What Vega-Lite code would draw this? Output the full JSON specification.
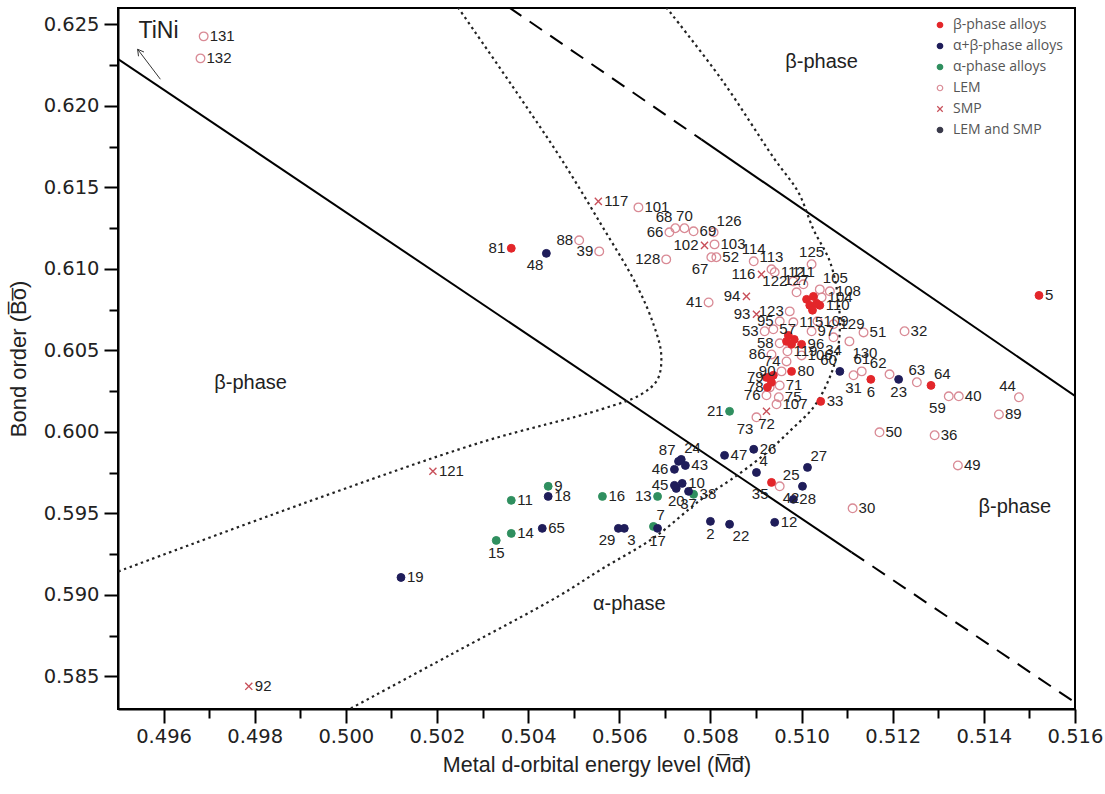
{
"$schema": "https://vega.github.io/schema/vega-lite/v6.json",
"width": 957, "height": 701,
"autosize": {"type": "none"},
"padding": {"left": 118, "top": 8, "right": 30, "bottom": 85},
"background": "white",
"config": {"view": {"stroke": "black", "strokeWidth": 2}, "font": "Liberation Sans"},
"datasets": {
"lines": [
{"seg":"A1","o":1,"x":0.49501,"y":0.62285},{"seg":"A1","o":2,"x":0.5111,"y":0.59261},
{"seg":"A2","o":1,"x":0.5111,"y":0.59261},{"seg":"A2","o":2,"x":0.516,"y":0.5834},
{"seg":"B1","o":1,"x":0.50358,"y":0.62604},{"seg":"B1","o":2,"x":0.5078,"y":0.61794},
{"seg":"B2","o":1,"x":0.5078,"y":0.61794},{"seg":"B2","o":2,"x":0.516,"y":0.6022},
{"seg":"C","o":1,"x":0.50246,"y":0.62604},{"seg":"C","o":2,"x":0.50385,"y":0.6204},{"seg":"C","o":3,"x":0.50473,"y":0.61672},{"seg":"C","o":4,"x":0.5056,"y":0.61273},{"seg":"C","o":5,"x":0.50637,"y":0.60905},{"seg":"C","o":6,"x":0.50675,"y":0.6066},{"seg":"C","o":7,"x":0.50692,"y":0.60475},{"seg":"C","o":8,"x":0.50684,"y":0.60322},{"seg":"C","o":9,"x":0.50648,"y":0.6023},{"seg":"C","o":10,"x":0.5056,"y":0.60138},{"seg":"C","o":11,"x":0.50297,"y":0.59936},{"seg":"C","o":12,"x":0.49901,"y":0.59555},{"seg":"C","o":13,"x":0.49501,"y":0.59144},
{"seg":"D","o":1,"x":0.50703,"y":0.62604},{"seg":"D","o":2,"x":0.50824,"y":0.62163},{"seg":"D","o":3,"x":0.50941,"y":0.61672},{"seg":"D","o":4,"x":0.50993,"y":0.61469},{"seg":"D","o":5,"x":0.51026,"y":0.61242},{"seg":"D","o":6,"x":0.51062,"y":0.61046},{"seg":"D","o":7,"x":0.51079,"y":0.60844},{"seg":"D","o":8,"x":0.51084,"y":0.60629},{"seg":"D","o":9,"x":0.51075,"y":0.60445},{"seg":"D","o":10,"x":0.51055,"y":0.60291},{"seg":"D","o":11,"x":0.51026,"y":0.6015},{"seg":"D","o":12,"x":0.50978,"y":0.60015},{"seg":"D","o":13,"x":0.50919,"y":0.59862},{"seg":"D","o":14,"x":0.50846,"y":0.59709},{"seg":"D","o":15,"x":0.5078,"y":0.59586},{"seg":"D","o":16,"x":0.50677,"y":0.59353},{"seg":"D","o":17,"x":0.5056,"y":0.59156},{"seg":"D","o":18,"x":0.50466,"y":0.58991},{"seg":"D","o":19,"x":0.50231,"y":0.58635},{"seg":"D","o":20,"x":0.50011,"y":0.58304},
{"seg":"ar","o":1,"x":0.49593,"y":0.62163},{"seg":"ar","o":2,"x":0.49543,"y":0.62347},
{"seg":"h1","o":1,"x":0.49543,"y":0.62347},{"seg":"h1","o":2,"x":0.49545,"y":0.62304},
{"seg":"h2","o":1,"x":0.49543,"y":0.62347},{"seg":"h2","o":2,"x":0.49557,"y":0.6233}
],
"ann": [
{"t":"TiNi","x":0.49589,"y":0.62457,"k":"big"},
{"t":"β-phase","x":0.51044,"y":0.62267,"k":"ph"},
{"t":"β-phase","x":0.49791,"y":0.60297,"k":"ph"},
{"t":"β-phase","x":0.51468,"y":0.59537,"k":"ph"},
{"t":"α-phase","x":0.50622,"y":0.58942,"k":"ph"}
],
"pts": [
{"id":"131","cat":"LEM","x":0.49688,"y":0.62426,"side":"r"},
{"id":"132","cat":"LEM","x":0.49681,"y":0.62291,"side":"r"},
{"id":"81","cat":"β-phase alloys","x":0.50363,"y":0.61126,"side":"l"},
{"id":"48","cat":"α+β-phase alloys","x":0.5044,"y":0.61095,"side":"bl"},
{"id":"88","cat":"LEM","x":0.50512,"y":0.61175,"side":"l"},
{"id":"39","cat":"LEM","x":0.50556,"y":0.61107,"side":"l"},
{"id":"117","cat":"SMP","x":0.50554,"y":0.61414,"side":"r"},
{"id":"101","cat":"LEM","x":0.50642,"y":0.61377,"side":"r"},
{"id":"66","cat":"LEM","x":0.5071,"y":0.61224,"side":"l"},
{"id":"68","cat":"LEM","x":0.50723,"y":0.61249,"side":"tl"},
{"id":"70","cat":"LEM","x":0.50743,"y":0.61249,"side":"t"},
{"id":"69","cat":"LEM","x":0.50763,"y":0.6123,"side":"r"},
{"id":"126","cat":"LEM","x":0.50807,"y":0.61224,"side":"tr"},
{"id":"102","cat":"SMP","x":0.50787,"y":0.61144,"side":"l"},
{"id":"103","cat":"LEM","x":0.50809,"y":0.6115,"side":"r"},
{"id":"52","cat":"LEM","x":0.50813,"y":0.61071,"side":"r"},
{"id":"67","cat":"LEM","x":0.50802,"y":0.61071,"side":"bl"},
{"id":"128","cat":"LEM","x":0.50703,"y":0.61058,"side":"l"},
{"id":"114","cat":"LEM","x":0.50895,"y":0.61046,"side":"t"},
{"id":"113","cat":"LEM","x":0.50934,"y":0.60997,"side":"t"},
{"id":"125","cat":"LEM","x":0.51022,"y":0.61028,"side":"t"},
{"id":"112","cat":"LEM","x":0.50941,"y":0.60979,"side":"r"},
{"id":"116","cat":"SMP","x":0.50912,"y":0.60966,"side":"l"},
{"id":"122","cat":"LEM","x":0.50982,"y":0.60923,"side":"l"},
{"id":"111","cat":"LEM","x":0.51004,"y":0.60905,"side":"t"},
{"id":"105","cat":"LEM","x":0.5104,"y":0.60874,"side":"tr"},
{"id":"108","cat":"LEM","x":0.51062,"y":0.60862,"side":"r"},
{"id":"127","cat":"LEM","x":0.50989,"y":0.60856,"side":"t"},
{"id":"104","cat":"LEM","x":0.51044,"y":0.60825,"side":"r"},
{"id":"110","cat":"β-phase alloys","x":0.5104,"y":0.60776,"side":"r"},
{"id":"41","cat":"LEM","x":0.50796,"y":0.60794,"side":"l"},
{"id":"94","cat":"SMP","x":0.50879,"y":0.60831,"side":"l"},
{"id":"93","cat":"SMP","x":0.50901,"y":0.60721,"side":"l"},
{"id":"123","cat":"LEM","x":0.50974,"y":0.60739,"side":"l"},
{"id":"95","cat":"LEM","x":0.50952,"y":0.60678,"side":"l"},
{"id":"115","cat":"LEM","x":0.50982,"y":0.60672,"side":"r"},
{"id":"109","cat":"LEM","x":0.51035,"y":0.60678,"side":"r"},
{"id":"129","cat":"LEM","x":0.5107,"y":0.6066,"side":"r"},
{"id":"53","cat":"LEM","x":0.50919,"y":0.60617,"side":"l"},
{"id":"57","cat":"LEM","x":0.50938,"y":0.60629,"side":"r"},
{"id":"97","cat":"LEM","x":0.51022,"y":0.60617,"side":"r"},
{"id":"51","cat":"LEM","x":0.51136,"y":0.6061,"side":"r"},
{"id":"32","cat":"LEM","x":0.51226,"y":0.60617,"side":"r"},
{"id":"130","cat":"LEM","x":0.51105,"y":0.60555,"side":"br"},
{"id":"34","cat":"LEM","x":0.5107,"y":0.6058,"side":"b"},
{"id":"96","cat":"β-phase alloys","x":0.51,"y":0.60537,"side":"r"},
{"id":"58","cat":"LEM","x":0.50952,"y":0.60543,"side":"l"},
{"id":"119","cat":"LEM","x":0.50969,"y":0.60494,"side":"r"},
{"id":"86","cat":"LEM","x":0.50934,"y":0.60475,"side":"l"},
{"id":"106","cat":"LEM","x":0.51,"y":0.60469,"side":"r"},
{"id":"74","cat":"LEM","x":0.50967,"y":0.60432,"side":"l"},
{"id":"90","cat":"LEM","x":0.50956,"y":0.60371,"side":"l"},
{"id":"80","cat":"β-phase alloys","x":0.50978,"y":0.60371,"side":"r"},
{"id":"79","cat":"LEM","x":0.5093,"y":0.60334,"side":"l"},
{"id":"78","cat":"LEM","x":0.5093,"y":0.60273,"side":"l"},
{"id":"71","cat":"LEM","x":0.50952,"y":0.60285,"side":"r"},
{"id":"76","cat":"LEM","x":0.50923,"y":0.60224,"side":"l"},
{"id":"75","cat":"LEM","x":0.5095,"y":0.60212,"side":"r"},
{"id":"107","cat":"LEM","x":0.50945,"y":0.60169,"side":"r"},
{"id":"72","cat":"SMP","x":0.50923,"y":0.60126,"side":"b"},
{"id":"73","cat":"LEM","x":0.50901,"y":0.60089,"side":"bl"},
{"id":"21","cat":"α-phase alloys","x":0.50842,"y":0.60126,"side":"l"},
{"id":"","cat":"β-phase alloys","x":0.51011,"y":0.60813,"side":""},
{"id":"","cat":"β-phase alloys","x":0.51026,"y":0.60831,"side":""},
{"id":"","cat":"β-phase alloys","x":0.51018,"y":0.60776,"side":""},
{"id":"","cat":"β-phase alloys","x":0.51033,"y":0.60788,"side":""},
{"id":"","cat":"β-phase alloys","x":0.51024,"y":0.60746,"side":""},
{"id":"","cat":"β-phase alloys","x":0.50971,"y":0.60592,"side":""},
{"id":"","cat":"β-phase alloys","x":0.50984,"y":0.60567,"side":""},
{"id":"","cat":"β-phase alloys","x":0.50978,"y":0.60537,"side":""},
{"id":"","cat":"β-phase alloys","x":0.50967,"y":0.60555,"side":""},
{"id":"","cat":"β-phase alloys","x":0.50923,"y":0.60334,"side":""},
{"id":"","cat":"β-phase alloys","x":0.50934,"y":0.60304,"side":""},
{"id":"","cat":"β-phase alloys","x":0.50925,"y":0.60273,"side":""},
{"id":"","cat":"β-phase alloys","x":0.50938,"y":0.60347,"side":""},
{"id":"60","cat":"α+β-phase alloys","x":0.51084,"y":0.60371,"side":"tl"},
{"id":"31","cat":"LEM","x":0.51114,"y":0.60347,"side":"b"},
{"id":"61","cat":"LEM","x":0.51132,"y":0.60371,"side":"t"},
{"id":"6","cat":"β-phase alloys","x":0.51152,"y":0.60322,"side":"b"},
{"id":"62","cat":"LEM","x":0.51193,"y":0.60353,"side":"tl"},
{"id":"23","cat":"α+β-phase alloys","x":0.51213,"y":0.60322,"side":"b"},
{"id":"63","cat":"LEM","x":0.51253,"y":0.60304,"side":"t"},
{"id":"64","cat":"β-phase alloys","x":0.51284,"y":0.60285,"side":"tr"},
{"id":"59","cat":"LEM","x":0.51323,"y":0.60218,"side":"bl"},
{"id":"40","cat":"LEM","x":0.51345,"y":0.60218,"side":"r"},
{"id":"44","cat":"LEM","x":0.51477,"y":0.60212,"side":"tl"},
{"id":"89","cat":"LEM","x":0.51433,"y":0.60107,"side":"r"},
{"id":"33","cat":"β-phase alloys","x":0.51042,"y":0.60187,"side":"r"},
{"id":"50","cat":"LEM","x":0.51171,"y":0.59997,"side":"r"},
{"id":"36","cat":"LEM","x":0.51292,"y":0.59979,"side":"r"},
{"id":"49","cat":"LEM","x":0.51343,"y":0.59794,"side":"r"},
{"id":"30","cat":"LEM","x":0.51112,"y":0.59531,"side":"r"},
{"id":"5","cat":"β-phase alloys","x":0.51521,"y":0.60837,"side":"r"},
{"id":"9","cat":"α-phase alloys","x":0.50444,"y":0.59666,"side":"r"},
{"id":"18","cat":"α+β-phase alloys","x":0.50444,"y":0.59604,"side":"r"},
{"id":"11","cat":"α-phase alloys","x":0.50363,"y":0.5958,"side":"r"},
{"id":"16","cat":"α-phase alloys","x":0.50563,"y":0.59604,"side":"r"},
{"id":"65","cat":"α+β-phase alloys","x":0.50431,"y":0.59408,"side":"r"},
{"id":"14","cat":"α-phase alloys","x":0.50363,"y":0.59377,"side":"r"},
{"id":"15","cat":"α-phase alloys","x":0.5033,"y":0.59334,"side":"b"},
{"id":"19","cat":"α+β-phase alloys","x":0.50121,"y":0.59107,"side":"r"},
{"id":"121","cat":"SMP","x":0.50191,"y":0.59758,"side":"r"},
{"id":"92","cat":"SMP","x":0.49787,"y":0.58439,"side":"r"},
{"id":"29","cat":"α+β-phase alloys","x":0.50598,"y":0.59408,"side":"bl"},
{"id":"3","cat":"α+β-phase alloys","x":0.50611,"y":0.59408,"side":"br"},
{"id":"7","cat":"α-phase alloys","x":0.50675,"y":0.5942,"side":"tr"},
{"id":"17","cat":"α+β-phase alloys","x":0.50684,"y":0.59408,"side":"b"},
{"id":"13","cat":"α-phase alloys","x":0.50684,"y":0.59604,"side":"l"},
{"id":"20","cat":"α+β-phase alloys","x":0.50725,"y":0.59653,"side":"b"},
{"id":"87","cat":"α+β-phase alloys","x":0.5073,"y":0.59819,"side":"tl"},
{"id":"24","cat":"α+β-phase alloys","x":0.50736,"y":0.59831,"side":"tr"},
{"id":"43","cat":"α+β-phase alloys","x":0.50745,"y":0.59794,"side":"r"},
{"id":"46","cat":"α+β-phase alloys","x":0.50721,"y":0.5977,"side":"l"},
{"id":"45","cat":"α+β-phase alloys","x":0.50721,"y":0.59672,"side":"l"},
{"id":"10","cat":"α+β-phase alloys","x":0.50738,"y":0.59684,"side":"r"},
{"id":"38","cat":"α-phase alloys","x":0.50763,"y":0.59617,"side":"r"},
{"id":"37","cat":"α+β-phase alloys","x":0.50752,"y":0.59635,"side":"b"},
{"id":"2","cat":"α+β-phase alloys","x":0.508,"y":0.59451,"side":"b"},
{"id":"22","cat":"α+β-phase alloys","x":0.50842,"y":0.59433,"side":"br"},
{"id":"12","cat":"α+β-phase alloys","x":0.50941,"y":0.59445,"side":"r"},
{"id":"47","cat":"α+β-phase alloys","x":0.50831,"y":0.59856,"side":"r"},
{"id":"26","cat":"α+β-phase alloys","x":0.50895,"y":0.59893,"side":"r"},
{"id":"4","cat":"α+β-phase alloys","x":0.50901,"y":0.59751,"side":"tr"},
{"id":"35","cat":"β-phase alloys","x":0.50934,"y":0.5969,"side":"bl"},
{"id":"42","cat":"LEM","x":0.50952,"y":0.59666,"side":"br"},
{"id":"25","cat":"α+β-phase alloys","x":0.51002,"y":0.59666,"side":"tl"},
{"id":"27","cat":"α+β-phase alloys","x":0.51013,"y":0.59782,"side":"tr"},
{"id":"28","cat":"α+β-phase alloys","x":0.50982,"y":0.59586,"side":"r"}
]
},
"encoding": {
"x": {"field": "x", "type": "quantitative",
 "scale": {"domain": [0.495, 0.516], "nice": false, "zero": false},
 "axis": {"title": "Metal d-orbital energy level (M\u0305d\u0305)",
  "values": [0.496,0.497,0.498,0.499,0.5,0.501,0.502,0.503,0.504,0.505,0.506,0.507,0.508,0.509,0.51,0.511,0.512,0.513,0.514,0.515,0.516],
  "labelExpr": "round(datum.value*1000)%2==0 ? format(datum.value,'.3f') : ''",
  "tickSize": {"condition": {"test": "round(datum.value*1000)%2==0", "value": 14}, "value": 9},
  "tickWidth": 2, "tickColor": "black", "domainColor": "black", "domainWidth": 2,
  "labelFont": "DejaVu Sans", "labelFontSize": 19.5, "labelColor": "#222", "labelPadding": 4,
  "labelFlush": false, "labelOverlap": false, "grid": false,
  "titleFont": "Liberation Sans", "titleFontSize": 21.5, "titleFontWeight": "normal", "titleColor": "#222", "titlePadding": 9}},
"y": {"field": "y", "type": "quantitative",
 "scale": {"domain": [0.583, 0.626], "nice": false, "zero": false},
 "axis": {"title": "Bond order (B\u0305o\u0305)",
  "values": [0.585,0.5875,0.59,0.5925,0.595,0.5975,0.6,0.6025,0.605,0.6075,0.61,0.6125,0.615,0.6175,0.62,0.6225,0.625],
  "labelExpr": "round(datum.value*2000)%2==0 ? format(datum.value,'.3f') : ''",
  "tickSize": {"condition": {"test": "round(datum.value*2000)%2==0", "value": 14}, "value": 9},
  "tickWidth": 2, "tickColor": "black", "domainColor": "black", "domainWidth": 2,
  "labelFont": "DejaVu Sans", "labelFontSize": 19.5, "labelColor": "#222", "labelPadding": 5,
  "labelFlush": false, "labelOverlap": false, "grid": false,
  "titleFont": "Liberation Sans", "titleFontSize": 22, "titleFontWeight": "normal", "titleColor": "#222", "titlePadding": 13}},
"shape": {"field": "cat", "type": "nominal",
   "scale": {"domain": ["β-phase alloys","α+β-phase alloys","α-phase alloys","LEM","SMP","LEM and SMP"], "range": ["circle","circle","circle","circle","M-1,-1L1,1M-1,1L1,-1","circle"]},
   "legend": {"title": null, "orient": "none", "legendX": 815, "legendY": 10, "labelFont": "Open Sans", "labelFontSize": 14, "labelColor": "#555", "rowPadding": 7, "labelOffset": 6, "symbolSize": 30, "symbolStrokeWidth": 1.2}},
"fill": {"field": "cat", "type": "nominal",
   "scale": {"domain": ["β-phase alloys","α+β-phase alloys","α-phase alloys","LEM","SMP","LEM and SMP"], "range": ["#e3262a","#1f1d5a","#2f8f5f","transparent","transparent","#3a3a4a"]},
   "legend": {"title": null, "orient": "none", "legendX": 815, "legendY": 10, "labelFont": "Open Sans", "labelFontSize": 14, "labelColor": "#555", "rowPadding": 7, "labelOffset": 6, "symbolSize": 30, "symbolStrokeWidth": 1.2}},
"stroke": {"field": "cat", "type": "nominal",
   "scale": {"domain": ["β-phase alloys","α+β-phase alloys","α-phase alloys","LEM","SMP","LEM and SMP"], "range": ["#e3262a","#1f1d5a","#2f8f5f","#d98a95","#c8505a","#3a3a4a"]},
   "legend": {"title": null, "orient": "none", "legendX": 815, "legendY": 10, "labelFont": "Open Sans", "labelFontSize": 14, "labelColor": "#555", "rowPadding": 7, "labelOffset": 6, "symbolSize": 30, "symbolStrokeWidth": 1.2}}
},
"layer": [
{"data": {"name": "lines"}, "transform": [{"filter": "datum.seg=='A1' || datum.seg=='B2'"}],
 "mark": {"type": "line", "color": "black", "strokeWidth": 2, "clip": true},
 "encoding": {"detail": {"field": "seg"}, "order": {"field": "o"}, "shape": null, "fill": null, "stroke": null}},
{"data": {"name": "lines"}, "transform": [{"filter": "datum.seg=='A2' || datum.seg=='B1'"}],
 "mark": {"type": "line", "color": "black", "strokeWidth": 2, "strokeDash": [15, 10], "clip": true},
 "encoding": {"detail": {"field": "seg"}, "order": {"field": "o"}, "shape": null, "fill": null, "stroke": null}},
{"data": {"name": "lines"}, "transform": [{"filter": "datum.seg=='C' || datum.seg=='D'"}],
 "mark": {"type": "line", "color": "#222", "strokeWidth": 2.2, "strokeDash": [2.5, 3.5], "interpolate": "catmull-rom", "clip": true},
 "encoding": {"detail": {"field": "seg"}, "order": {"field": "o"}, "shape": null, "fill": null, "stroke": null}},
{"data": {"name": "lines"}, "transform": [{"filter": "datum.seg=='ar' || datum.seg=='h1' || datum.seg=='h2'"}],
 "mark": {"type": "line", "color": "#333", "strokeWidth": 1},
 "encoding": {"detail": {"field": "seg"}, "order": {"field": "o"}, "shape": null, "fill": null, "stroke": null}},
{"data": {"name": "pts"}, "transform": [{"filter": "datum.cat=='LEM'"}],
 "mark": {"type": "point", "size": 75, "strokeWidth": 1.3, "opacity": 1}},
{"data": {"name": "pts"}, "transform": [{"filter": "datum.cat=='SMP'"}],
 "mark": {"type": "point", "size": 50, "strokeWidth": 1.4, "opacity": 1}},
{"data": {"name": "pts"}, "transform": [{"filter": "datum.cat!='LEM' && datum.cat!='SMP'"}],
 "mark": {"type": "point", "size": 62, "strokeWidth": 1, "opacity": 1}},
{"data": {"name": "pts"}, "transform": [{"filter": "datum.side=='r'"}],
 "mark": {"type": "text", "align": "left", "baseline": "middle", "dx": 6, "font": "Liberation Sans", "fontSize": 15, "color": "#222"},
 "encoding": {"text": {"field": "id"}, "shape": null, "fill": null, "stroke": null}},
{"data": {"name": "pts"}, "transform": [{"filter": "datum.side=='l'"}],
 "mark": {"type": "text", "align": "right", "baseline": "middle", "dx": -6, "font": "Liberation Sans", "fontSize": 15, "color": "#222"},
 "encoding": {"text": {"field": "id"}, "shape": null, "fill": null, "stroke": null}},
{"data": {"name": "pts"}, "transform": [{"filter": "datum.side=='t'"}],
 "mark": {"type": "text", "align": "center", "baseline": "middle", "dy": -12, "font": "Liberation Sans", "fontSize": 15, "color": "#222"},
 "encoding": {"text": {"field": "id"}, "shape": null, "fill": null, "stroke": null}},
{"data": {"name": "pts"}, "transform": [{"filter": "datum.side=='b'"}],
 "mark": {"type": "text", "align": "center", "baseline": "middle", "dy": 13, "font": "Liberation Sans", "fontSize": 15, "color": "#222"},
 "encoding": {"text": {"field": "id"}, "shape": null, "fill": null, "stroke": null}},
{"data": {"name": "pts"}, "transform": [{"filter": "datum.side=='tr'"}],
 "mark": {"type": "text", "align": "left", "baseline": "middle", "dx": 3, "dy": -11, "font": "Liberation Sans", "fontSize": 15, "color": "#222"},
 "encoding": {"text": {"field": "id"}, "shape": null, "fill": null, "stroke": null}},
{"data": {"name": "pts"}, "transform": [{"filter": "datum.side=='tl'"}],
 "mark": {"type": "text", "align": "right", "baseline": "middle", "dx": -3, "dy": -11, "font": "Liberation Sans", "fontSize": 15, "color": "#222"},
 "encoding": {"text": {"field": "id"}, "shape": null, "fill": null, "stroke": null}},
{"data": {"name": "pts"}, "transform": [{"filter": "datum.side=='br'"}],
 "mark": {"type": "text", "align": "left", "baseline": "middle", "dx": 3, "dy": 12, "font": "Liberation Sans", "fontSize": 15, "color": "#222"},
 "encoding": {"text": {"field": "id"}, "shape": null, "fill": null, "stroke": null}},
{"data": {"name": "pts"}, "transform": [{"filter": "datum.side=='bl'"}],
 "mark": {"type": "text", "align": "right", "baseline": "middle", "dx": -3, "dy": 12, "font": "Liberation Sans", "fontSize": 15, "color": "#222"},
 "encoding": {"text": {"field": "id"}, "shape": null, "fill": null, "stroke": null}},
{"data": {"name": "ann"}, "transform": [{"filter": "datum.k=='ph'"}],
 "mark": {"type": "text", "align": "center", "baseline": "middle", "font": "Liberation Sans", "fontSize": 20, "color": "#222"},
 "encoding": {"text": {"field": "t"}, "shape": null, "fill": null, "stroke": null}},
{"data": {"name": "ann"}, "transform": [{"filter": "datum.k=='big'"}],
 "mark": {"type": "text", "align": "center", "baseline": "middle", "font": "Liberation Sans", "fontSize": 23, "color": "#222"},
 "encoding": {"text": {"field": "t"}, "shape": null, "fill": null, "stroke": null}}
]
}
